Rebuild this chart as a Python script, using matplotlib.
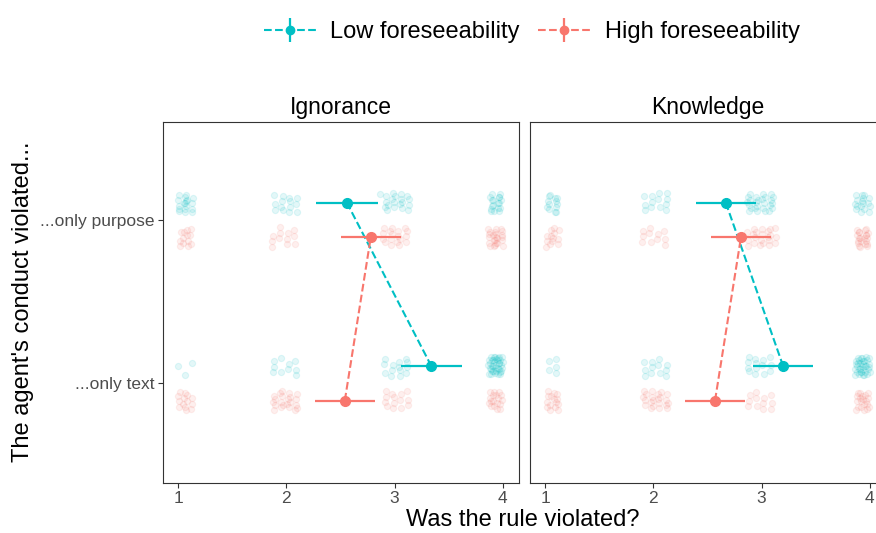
import numpy as np
import matplotlib.pyplot as plt

plt.rcParams['font.family'] = ['Liberation Sans', 'DejaVu Sans']

# categorias e grupos
facetas = ['Ignorance', 'Knowledge']
grupos = ['Low foreseeability', 'High foreseeability']
cores = ['#00BFC4', '#F8766D']
categorias = ['...only text', '...only purpose']  # posicao y = 1, 2
respostas = [1, 2, 3, 4]

# contagem de respostas (1, 2, 3, 4)
ign_low_texto = [3, 10, 14, 38]
ign_low_proposito = [18, 14, 20, 18]
ign_high_texto = [14, 22, 14, 18]
ign_high_proposito = [13, 12, 18, 24]
kno_low_texto = [5, 12, 14, 35]
kno_low_proposito = [13, 13, 26, 17]
kno_high_texto = [15, 22, 12, 20]
kno_high_proposito = [13, 11, 22, 22]

# medias e meia largura das barras de erro (texto, proposito)
ign_low_media = [3.34, 2.56]
ign_low_erro = [0.28, 0.285]
ign_high_media = [2.54, 2.78]
ign_high_erro = [0.275, 0.275]
kno_low_media = [3.20, 2.67]
kno_low_erro = [0.275, 0.28]
kno_high_media = [2.57, 2.81]
kno_high_erro = [0.275, 0.275]

contagens = {
    ('Ignorance', 0): [ign_low_texto, ign_low_proposito],
    ('Ignorance', 1): [ign_high_texto, ign_high_proposito],
    ('Knowledge', 0): [kno_low_texto, kno_low_proposito],
    ('Knowledge', 1): [kno_high_texto, kno_high_proposito],
}
medias = {
    ('Ignorance', 0): (ign_low_media, ign_low_erro),
    ('Ignorance', 1): (ign_high_media, ign_high_erro),
    ('Knowledge', 0): (kno_low_media, kno_low_erro),
    ('Knowledge', 1): (kno_high_media, kno_high_erro),
}

desloc = [0.105, -0.105]  # dodge vertical de cada grupo


def espalhar(n, inicio):
    # jitter deterministico (sequencia R2), so para posicionar os pontos
    g = 1.32471795724474602596
    k = np.arange(inicio, inicio + n)
    u = (0.5 + k / g) % 1
    v = (0.5 + k / g ** 2) % 1
    return u, v


fig = plt.figure(figsize=(8.76, 5.33), dpi=100)
eixos = [fig.add_axes([0.1861, 0.0938, 0.4064, 0.6773]),
         fig.add_axes([0.6050, 0.0938, 0.4064, 0.6773])]

handles = []
semente = 0
for ax, faceta in zip(eixos, facetas):
    for gi, cor in enumerate(cores):
        for ci in range(2):
            for r, n in zip(respostas, contagens[(faceta, gi)][ci]):
                u, v = espalhar(n, semente)
                semente += n + 7
                dx = (u - 0.5) * 0.27
                if r == 1:
                    dx = np.abs(dx)
                elif r == 4:
                    dx = -np.abs(dx)
                dy = (v - 0.5) * 0.12
                ax.scatter(r + dx, ci + 1 + desloc[gi] + dy, s=20,
                           facecolors=cor, edgecolors=cor, alpha=0.11,
                           linewidths=0.8, zorder=2)
    for gi, cor in enumerate(cores):
        m, e = medias[(faceta, gi)]
        ys = [1 + desloc[gi], 2 + desloc[gi]]
        ax.plot(m, ys, ls='--', color=cor, lw=1.5, zorder=3)
        ax.errorbar(m, ys, xerr=e, fmt='o', color=cor, ms=7, elinewidth=1.6,
                    capsize=0, zorder=4)
        if faceta == 'Ignorance':
            h = ax.errorbar([np.nan], [np.nan], yerr=[0.1], fmt='o', ls='--',
                            color=cor, ms=6, lw=1.5, elinewidth=1.6, capsize=0)
            handles.append(h)

    ax.set_xlim(0.86, 4.15)
    ax.set_ylim(0.39, 2.60)
    ax.set_xticks(respostas)
    ax.set_xticklabels([str(r) for r in respostas])
    ax.set_yticks([1, 2])
    ax.tick_params(colors='#333333', labelcolor='#4D4D4D', labelsize=12.5,
                   length=3.5, width=0.8, pad=2.5)
    for s in ax.spines.values():
        s.set_color('#333333')
        s.set_linewidth(0.8)
    ax.set_title(faceta, fontsize=16.5, pad=6)

eixos[0].set_yticklabels(categorias)
eixos[1].tick_params(axis='y', left=False, labelleft=False)

fig.text(0.597, 0.004, 'Was the rule violated?', ha='center', va='bottom', fontsize=17)
fig.text(0.026, 0.433, "The agent's conduct violated...", rotation=90,
         ha='center', va='center', fontsize=17)

fig.legend(handles, grupos, loc='upper center', bbox_to_anchor=(0.607, 1.0),
           ncol=2, frameon=False, fontsize=17, handlelength=2.2,
           columnspacing=0.8, handletextpad=0.6)

fig.savefig('out.png', dpi=100)
